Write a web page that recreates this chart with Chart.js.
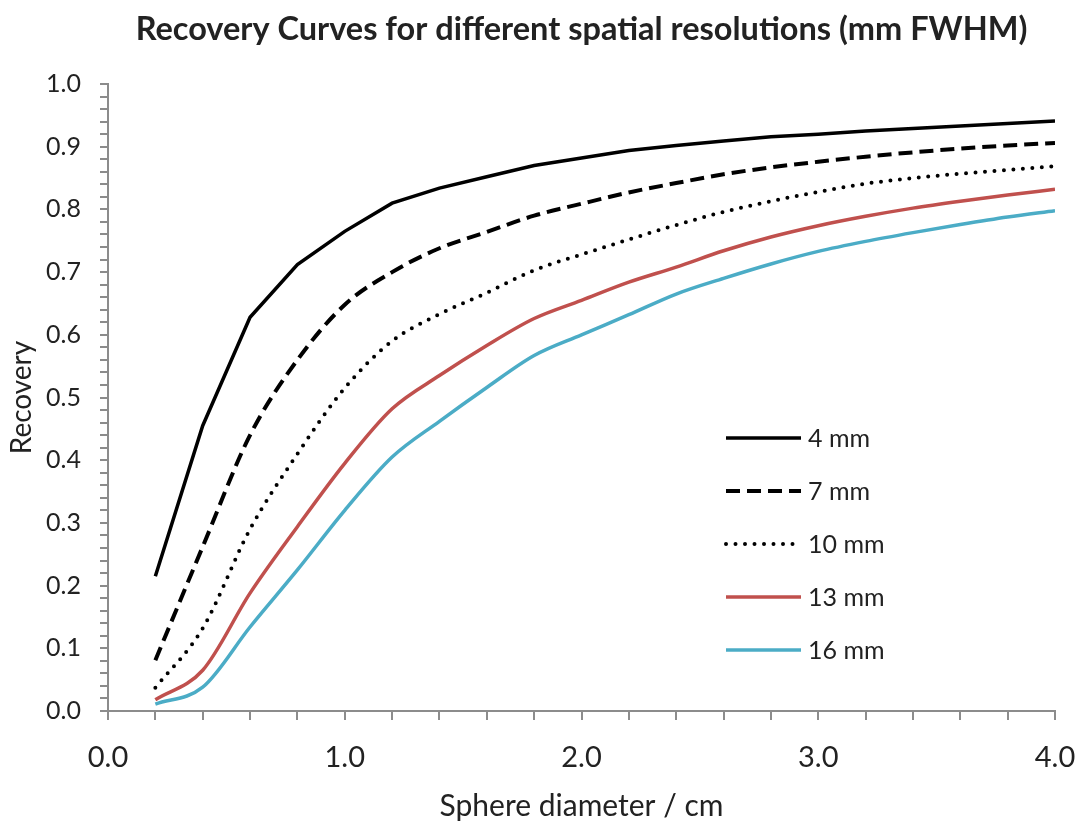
<!DOCTYPE html>
<html>
<head>
<meta charset="utf-8">
<title>Recovery Curves</title>
<script src="https://cdn.jsdelivr.net/npm/chart.js@4/dist/chart.umd.min.js"></script>
<style>
  html, body { margin: 0; padding: 0; background: #fff; }
  #wrap { width: 1086px; height: 824px; }
</style>
</head>
<body>
<div id="wrap"><canvas id="myChart" width="1086" height="824"></canvas></div>
<script>
// sphere diameters (cm)
var diameters = [0.2, 0.4, 0.6, 0.8, 1.0, 1.2, 1.4, 1.6, 1.8, 2.0, 2.2, 2.4, 2.6, 2.8, 3.0, 3.2, 3.4, 3.6, 3.8, 4.0];

// recovery values, one array per resolution
var rec4mm  = [0.215, 0.455, 0.628, 0.712, 0.765, 0.810, 0.834, 0.852, 0.870, 0.882, 0.894, 0.902, 0.909, 0.916, 0.920, 0.925, 0.929, 0.933, 0.937, 0.941];
var rec7mm  = [0.081, 0.262, 0.440, 0.560, 0.648, 0.700, 0.738, 0.764, 0.790, 0.809, 0.827, 0.842, 0.856, 0.867, 0.876, 0.884, 0.891, 0.897, 0.902, 0.906];
var rec10mm = [0.037, 0.132, 0.290, 0.410, 0.515, 0.590, 0.633, 0.667, 0.703, 0.728, 0.752, 0.775, 0.796, 0.813, 0.828, 0.841, 0.850, 0.857, 0.863, 0.869];
var rec13mm = [0.018, 0.065, 0.188, 0.294, 0.395, 0.482, 0.535, 0.583, 0.626, 0.655, 0.684, 0.708, 0.734, 0.756, 0.774, 0.789, 0.802, 0.813, 0.823, 0.832];
var rec16mm = [0.011, 0.038, 0.134, 0.225, 0.320, 0.405, 0.462, 0.516, 0.567, 0.600, 0.632, 0.665, 0.690, 0.713, 0.733, 0.749, 0.763, 0.776, 0.788, 0.798];

var seriesLabels = ['4 mm', '7 mm', '10 mm', '13 mm', '16 mm'];

var fontFam = 'Lato, "Open Sans", sans-serif';
var textCol = '#222222';
var axisCol = '#8c8c8c';

function toPoints(vals) {
    var pts = [];
    for (var i = 0; i < vals.length; i++) {
        pts.push({ x: diameters[i], y: vals[i] });
    }
    return pts;
}

function isMajor(v, step) {
    var r = v / step;
    return Math.abs(r - Math.round(r)) < 1e-6;
}

// legend sits inside the plot, so draw it by hand
const insideLegend = {
    id: 'insideLegend',
    afterDraw(chart) {
        const ctx = chart.ctx;
        const rows = [438, 491, 544, 597, 650];
        ctx.save();
        chart.data.datasets.forEach(function (ds, i) {
            ctx.beginPath();
            ctx.strokeStyle = ds.borderColor;
            ctx.lineWidth = ds.borderWidth;
            ctx.lineCap = ds.borderCapStyle || 'butt';
            ctx.setLineDash(ds.borderDash || []);
            ctx.moveTo(726, rows[i]);
            ctx.lineTo(801, rows[i]);
            ctx.stroke();
            ctx.setLineDash([]);
            ctx.fillStyle = textCol;
            ctx.font = '25px ' + fontFam;
            ctx.textBaseline = 'middle';
            ctx.textAlign = 'left';
            ctx.fillText(ds.label, 808, rows[i] + 1);
        });
        ctx.restore();
    }
};

const data = {
    datasets: [
        { label: seriesLabels[0], data: toPoints(rec4mm), borderColor: '#000000', borderWidth: 3.5, tension: 0, cubicInterpolationMode: 'default' },
        { label: seriesLabels[1], data: toPoints(rec7mm), borderColor: '#000000', borderWidth: 4, borderDash: [14, 7] },
        { label: seriesLabels[2], data: toPoints(rec10mm), borderColor: '#000000', borderWidth: 4, borderDash: [0, 9.5], borderCapStyle: 'round' },
        { label: seriesLabels[3], data: toPoints(rec13mm), borderColor: '#c0504d', borderWidth: 3.5 },
        { label: seriesLabels[4], data: toPoints(rec16mm), borderColor: '#4bacc6', borderWidth: 3.5 }
    ]
};

const config = {
    type: 'line',
    data: data,
    options: {
        responsive: false,
        animation: false,
        layout: { padding: { left: 0, right: 31, top: 0, bottom: 0 } },
        elements: {
            point: { radius: 0 },
            line: { tension: 0.25, cubicInterpolationMode: 'monotone', fill: false }
        },
        plugins: {
            legend: { display: false },
            tooltip: { enabled: false },
            title: {
                display: true,
                fullSize: false,
                text: 'Recovery Curves for different spatial resolutions (mm FWHM)',
                color: textCol,
                font: { family: fontFam, size: 32.5, weight: 'bold' },
                padding: { top: 10, bottom: 35 }
            }
        },
        scales: {
            x: {
                type: 'linear',
                min: 0,
                max: 4,
                border: { color: axisCol, width: 2 },
                grid: { drawOnChartArea: false, drawTicks: true, tickLength: 9, color: axisCol, lineWidth: 2 },
                ticks: {
                    stepSize: 0.2,
                    autoSkip: false,
                    maxRotation: 0,
                    padding: 20,
                    color: textCol,
                    font: { family: fontFam, size: 29 },
                    callback: function (v) { return isMajor(v, 1) ? v.toFixed(1) : ''; }
                },
                title: {
                    display: true,
                    text: 'Sphere diameter / cm',
                    color: textCol,
                    font: { family: fontFam, size: 30 },
                    padding: { top: 0, bottom: 0 }
                },
                afterFit: function (scale) {
                    scale.height = 113;
                    // let the 4.0 label hang past the plot like the original
                    scale.paddingLeft = 0;
                    scale.paddingRight = 0;
                }
            },
            y: {
                min: 0,
                max: 1,
                border: { color: axisCol, width: 2 },
                grid: { drawOnChartArea: false, drawTicks: true, tickLength: 8, color: axisCol, lineWidth: 2 },
                ticks: {
                    stepSize: 0.02,
                    autoSkip: false,
                    padding: 19,
                    color: textCol,
                    font: { family: fontFam, size: 25 },
                    callback: function (v) { return isMajor(v, 0.1) ? v.toFixed(1) : ''; }
                },
                title: {
                    display: true,
                    text: 'Recovery',
                    color: textCol,
                    font: { family: fontFam, size: 28 },
                    padding: { top: 5, bottom: 0 }
                },
                afterFit: function (scale) { scale.width = 108; }
            }
        }
    },
    plugins: [insideLegend]
};

const myChart = new Chart(document.getElementById('myChart'), config);
</script>
</body>
</html>
